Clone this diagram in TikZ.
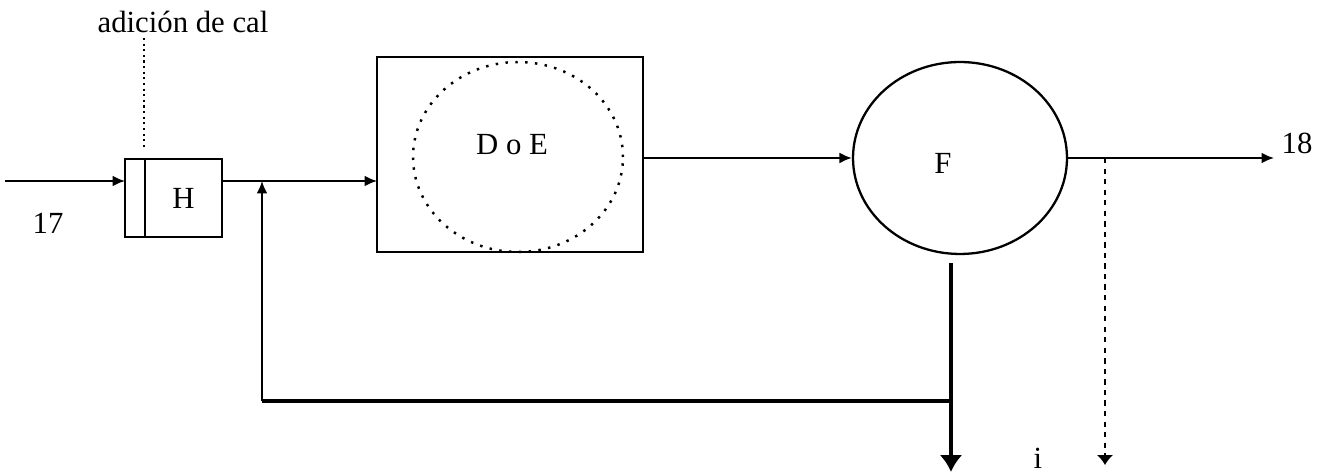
\documentclass[tikz,border=0pt]{standalone}
\usepackage{fontspec}
\setmainfont{Liberation Serif}
\usetikzlibrary{arrows.meta,shapes.geometric}
\begin{document}
\begin{tikzpicture}[x=0.02cm,y=-0.02cm,font=\fontsize{17.5}{20}\selectfont,
  box/.style={draw,line width=1.3pt,inner sep=0pt,outer sep=0pt},
  flow/.style={line width=1.2pt,-{Latex[length=0.25cm,width=0.22cm]}},
  heavy/.style={line width=2.8pt,-{Latex[length=0.34cm,width=0.46cm]}}]
\useasboundingbox (0,0) rectangle (1324,475);
\node[box,minimum width=0.4cm,minimum height=1.56cm] (hsmall) at (135,198) {};
\node[box,minimum width=1.54cm,minimum height=1.56cm] (hbox) at (183.5,198) {H};
\node[box,minimum width=5.32cm,minimum height=3.9cm] (doe) at (510,154.5) {};
\node[draw,line width=1.4pt,dash pattern=on 1.4pt off 4.2pt,ellipse,inner sep=0pt,minimum width=4.2cm,minimum height=3.8cm] (doeell) at (518,157) {};
\node (doetext) at (512,145) {D o E};
\node[draw,line width=1.3pt,ellipse,inner sep=0pt,minimum width=4.28cm,minimum height=3.84cm] (F) at (960,158) {};
\node (ftext) at (943,163) {F};
\node (cal) at (183,22) {adición de cal};
\node (n17) at (48,223) {17};
\node (n18) at (1297,143) {18};
\node (ni) at (1038,458) {i};
\coordinate (in) at (5,181);
\coordinate (fb) at (262,401);
\coordinate (drop) at (951,401);
\coordinate (solid) at (951,472);
\coordinate (out) at (1274,158);
\coordinate (tap) at (1105,158);
\coordinate (spill) at (1105,465);
\draw[flow] (in) -- (in -| hsmall.west);
\draw[dotted,line width=1.2pt] (144,38) -- (144,150);
\draw[flow] (hbox.east |- in) -- (doe.west |- in);
\draw[flow] (fb) -- (fb |- in);
\draw[line width=2.8pt] (fb) -- (drop);
\draw[heavy] (solid |- F.south) ++(0,8) -- (solid);
\draw[flow] (doe.east |- F.west) -- (F.west);
\draw[flow] (F.east) -- (out);
\draw[dashed,line width=1.2pt,-{Latex[length=0.2cm,width=0.34cm]}] (tap) -- (spill);
\end{tikzpicture}
\end{document}
